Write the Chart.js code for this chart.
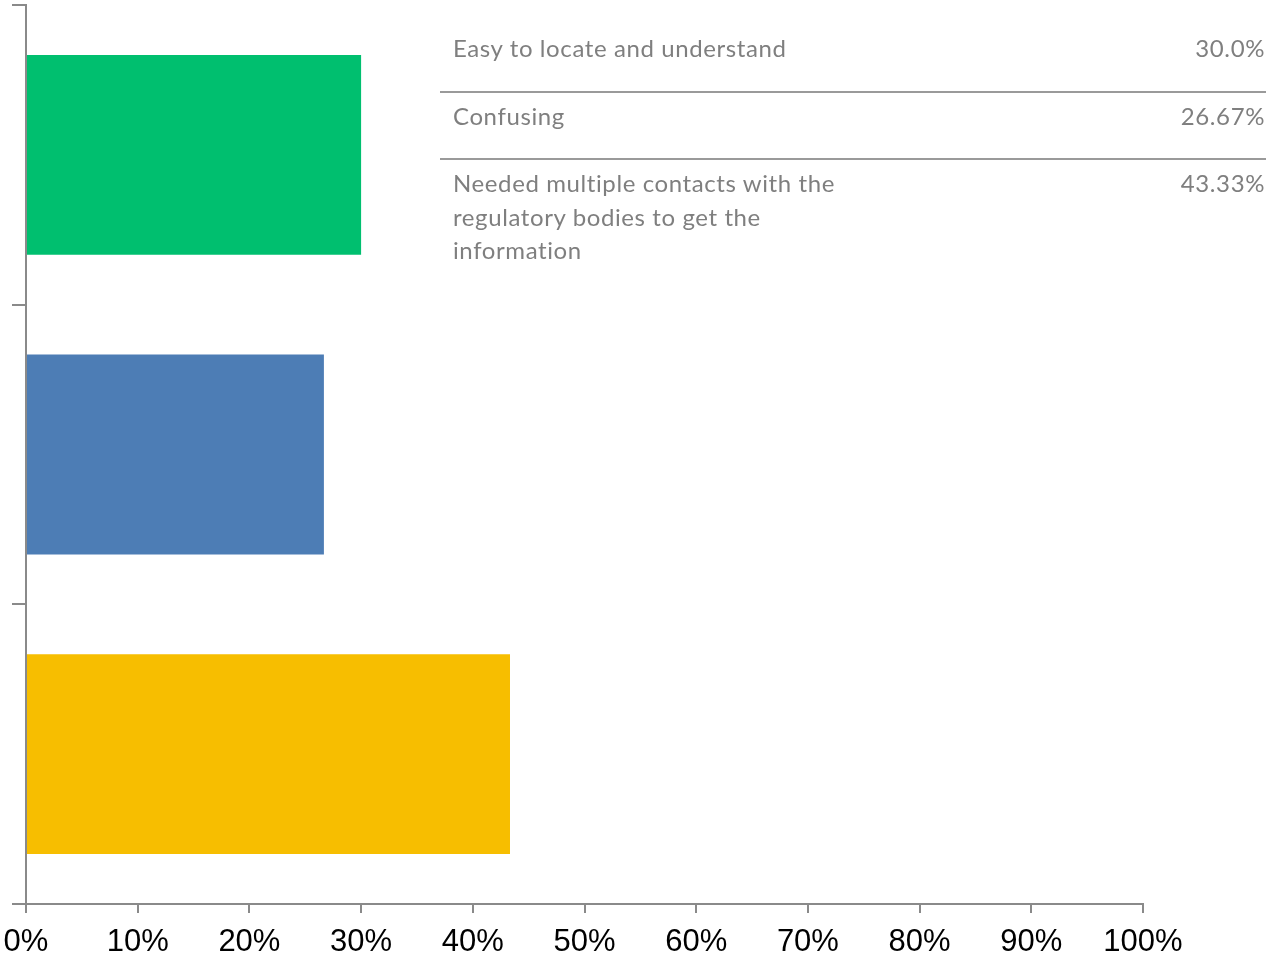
<!DOCTYPE html>
<html lang="en">
<head>
  <meta charset="UTF-8">
  <title>Information clarity</title>
  <style>
    html, body {
      margin: 0;
      padding: 0;
      background: #ffffff;
    }
    #wrap {
      position: relative;
      width: 1266px;
      height: 958px;
    }
    /* legend table in the top right corner */
    #legend {
      position: absolute;
      left: 440px;
      top: 25px;
      width: 826px;
      border-collapse: collapse;
      font-family: Lato, "Noto Sans", sans-serif;
      font-size: 24px;
      letter-spacing: 0.6px;
      font-variant-ligatures: none;
      color: #7f7f7f;
    }
    #legend td {
      vertical-align: top;
      line-height: 33.5px;
      padding: 6px 1px 26px 13px;
    }
    #legend tr + tr td {
      border-top: 2px solid #9a9a9a;
    }
    #legend td.label {
      width: 400px;
    }
    #legend td.value {
      text-align: right;
    }
  </style>
  <script src="https://cdn.jsdelivr.net/npm/chart.js"></script>
</head>
<body>
  <div id="wrap">
    <canvas id="chart" width="1266" height="958"></canvas>
    <table id="legend"></table>
  </div>
  <script>
    // data
    const categories = [
      "Easy to locate and understand",
      "Confusing",
      "Needed multiple contacts with the regulatory bodies to get the information"
    ];
    const percentages = [30.0, 26.67, 43.33];
    const valueLabels = ["30.0%", "26.67%", "43.33%"];
    const barColors = ["#00bf6f", "#4d7db5", "#f7be00"];
    const xTicks = [0, 10, 20, 30, 40, 50, 60, 70, 80, 90, 100];

    const axisGray = "#8a8a8a";

    // build the legend table from the arrays
    const legend = document.getElementById('legend');
    categories.forEach((name, i) => {
      const row = document.createElement('tr');
      const a = document.createElement('td');
      a.className = 'label';
      a.textContent = name;
      const b = document.createElement('td');
      b.className = 'value';
      b.textContent = valueLabels[i];
      row.appendChild(a);
      row.appendChild(b);
      legend.appendChild(row);
    });

    new Chart(document.getElementById('chart'), {
      type: 'bar',
      data: {
        labels: categories,
        datasets: [{
          data: percentages,
          backgroundColor: barColors,
          borderWidth: 0,
          barPercentage: 0.667,
          categoryPercentage: 1.0
        }]
      },
      options: {
        indexAxis: 'y',
        responsive: false,
        animation: false,
        layout: {
          padding: { left: 12, top: 5, right: 123, bottom: -14 }
        },
        plugins: {
          legend: { display: false },
          tooltip: { enabled: false }
        },
        scales: {
          x: {
            type: 'linear',
            min: 0,
            max: 100,
            afterBuildTicks: (scale) => {
              scale.ticks = xTicks.map(v => ({ value: v }));
            },
            // labels may hang past the plot edges, keep the plot where it is
            afterFit: (scale) => {
              scale.paddingLeft = 0;
              scale.paddingRight = 0;
            },
            ticks: {
              color: '#000000',
              padding: 14,
              maxRotation: 0,
              autoSkip: false,
              font: { family: '"Liberation Sans", Arial, sans-serif', size: 31, lineHeight: 1.0 },
              callback: (v) => v + '%'
            },
            grid: {
              drawOnChartArea: false,
              drawTicks: true,
              tickLength: 9,
              color: axisGray,
              lineWidth: 2
            },
            border: { color: axisGray, width: 2 }
          },
          y: {
            ticks: { display: false },
            grid: {
              drawOnChartArea: false,
              drawTicks: true,
              tickLength: 14,
              offset: true,
              color: axisGray,
              lineWidth: 2
            },
            border: { color: axisGray, width: 2 }
          }
        }
      }
    });
  </script>
</body>
</html>
